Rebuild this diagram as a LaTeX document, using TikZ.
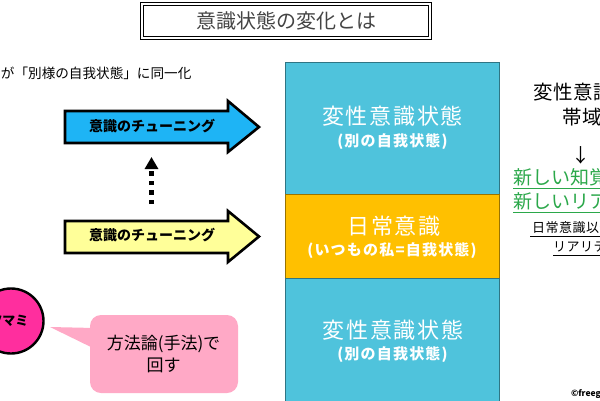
\documentclass[tikz,border=0pt]{standalone}
\usepackage{fontspec}
\setmainfont{Noto Sans CJK JP}
\usetikzlibrary{arrows.meta}
\definecolor{bandteal}{HTML}{4FC3DC}
\definecolor{bandgold}{HTML}{FFC000}
\definecolor{newgreen}{HTML}{2BA84A}
\definecolor{skyfill}{HTML}{1EB4F5}
\definecolor{paleyellow}{HTML}{FFFF99}
\definecolor{hotpink}{HTML}{FF2E9E}
\definecolor{softpink}{HTML}{FFA9C6}
\definecolor{titlegrey}{HTML}{444444}
\tikzset{
  plain/.style={inner sep=0pt,outer sep=0pt},
  band/.style={plain,fill=#1,draw=black!40!#1,line width=0.6pt},
  shiftarrow/.style={draw=black,line width=2.6pt,miter limit=6,fill=#1},
  bandhead/.style={plain,text=white,font=\fontsize{22}{24}\selectfont\addfontfeature{LetterSpace=8}},
  bandsub/.style={plain,text=white,font=\bfseries\fontsize{15}{17}\selectfont\addfontfeature{LetterSpace=8}},
  sidehead/.style={plain,anchor=west,font=\fontsize{19.5}{22}\selectfont\addfontfeature{LetterSpace=4}},
  greenline/.style={plain,anchor=west,text=newgreen,font=\fontsize{19}{22}\selectfont},
  sidenote/.style={plain,anchor=west,font=\fontsize{13}{15}\selectfont\addfontfeature{LetterSpace=4}},
  tuninglabel/.style={plain,font=\bfseries\fontsize{14}{16}\selectfont},
}
\begin{document}
\begin{tikzpicture}[x=1pt,y=-1pt]
\useasboundingbox (0,0) rectangle (600,400);
\clip (0,0) rectangle (600,400);
\fill[white] (0,0) rectangle (600,400);

% Title frame with a double border
\node[plain,draw=black,double=white,double distance=1.2pt,line width=1.5pt,minimum width=288pt,minimum height=34pt] (titlebox) at (286,21) {};
\node[plain,text=titlegrey,font=\fontsize{20}{22}\selectfont] (title) at (286,21) {意識状態の変化とは};

\node[plain,anchor=west,font=\fontsize{13.6}{15}\selectfont] (intro) at (1,73) {が「別様の自我状態」に同一化};

% Consciousness bands
\node[band=bandteal,anchor=north west,minimum width=213.5pt,minimum height=132pt] (upper) at (285.5,62.5) {};
\node[band=bandgold,anchor=north west,minimum width=213.5pt,minimum height=83.5pt] (middle) at (285.5,194.5) {};
\node[band=bandteal,anchor=north west,minimum width=213.5pt,minimum height=130pt] (lower) at (285.5,278) {};

\node[bandhead] (upperhead) at (392.5,116) {変性意識状態};
\node[bandsub] (uppersub) at (392.5,142) {(別の自我状態)};
\node[bandhead] (middlehead) at (394,226) {日常意識};
\node[bandsub] (middlesub) at (392,251) {(いつもの私=自我状態)};
\node[bandhead] (lowerhead) at (393,330) {変性意識状態};
\node[bandsub] (lowersub) at (392.5,355) {(別の自我状態)};

% Tuning arrows
\draw[shiftarrow=skyfill] (65,111) -- (228,111) -- (228,101) -- (259,127) -- (228,152) -- (228,143) -- (65,143) -- cycle;
\node[tuninglabel] (tuneup) at (152,126) {意識のチューニング};
\draw[shiftarrow=paleyellow] (65,221) -- (228,221) -- (228,211) -- (259,236.5) -- (228,262) -- (228,253) -- (65,253) -- cycle;
\node[tuninglabel] (tunedown) at (152,235) {意識のチューニング};

% Dotted link between the two tuning states
\coordinate (linkfrom) at (151.5,204);
\coordinate (linkto) at (151.5,157);
\draw[line width=4.5pt,dash pattern=on 4.5pt off 5pt,-{Triangle[length=12pt,width=13pt,sep=0pt]}] (linkfrom) -- (linkto);

% Knob and speech bubble
\node[plain,circle,draw=black,line width=2.4pt,fill=hotpink,minimum size=65pt] (knob) at (11,321) {};
\node[plain,font=\bfseries\fontsize{13}{15}\selectfont] (knoblabel) at (9,321) {ツマミ};
\fill[softpink] (50,327) -- (95,328) -- (95,349) -- cycle;
\node[plain,fill=softpink,rounded corners=11pt,minimum width=148pt,minimum height=78pt] (bubble) at (164,354) {};
\node[plain,align=center,font=\fontsize{17}{22}\selectfont] (bubbletext) at (163.5,354) {方法論(手法)で\\回す};

% Right-hand commentary, running off the edge of the sheet
\node[sidehead] (sideone) at (533,92) {変性意識の};
\node[sidehead] (sidetwo) at (562,117) {帯域};
\node[plain,font=\fontsize{19}{22}\selectfont] (sidearrow) at (581,155) {↓};
\node[greenline] (newone) at (513,177) {新しい知覚};
\node[greenline] (newtwo) at (513,201) {新しいリアル};
\draw[newgreen,line width=0.9pt] (513,188.5) -- (600,188.5) (513,212.5) -- (600,212.5);
\node[sidenote] (noteone) at (532,228) {日常意識以外の};
\node[sidenote] (notetwo) at (553,247) {リアリティ};
\draw[black,line width=0.7pt] (530,236.5) -- (600,236.5) (553,255.5) -- (600,255.5);

\node[plain,anchor=west,font=\bfseries\fontsize{8.5}{10}\selectfont] (credit) at (571,394) {©freegraphics};
\end{tikzpicture}
\end{document}
